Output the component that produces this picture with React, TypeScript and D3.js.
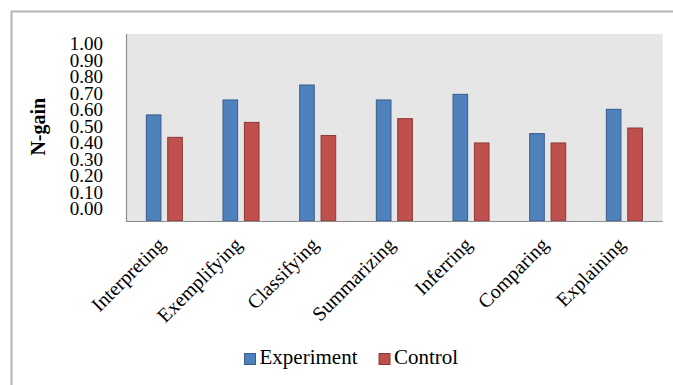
import React from "react";
import * as d3 from "d3";

const categories = ["Interpreting", "Exemplifying", "Classifying", "Summarizing", "Inferring", "Comparing", "Explaining"];
const seriesNames = ["Experiment", "Control"];
const experiment = [0.57, 0.65, 0.73, 0.65, 0.68, 0.47, 0.60];
const control = [0.45, 0.53, 0.46, 0.55, 0.42, 0.42, 0.50];
const yTicks = [0, 0.1, 0.2, 0.3, 0.4, 0.5, 0.6, 0.7, 0.8, 0.9, 1.0];
const colors = ["#4f81bd", "#c0504d"];
const strokes = ["#385d8a", "#8c3836"];

const W = 673;
const H = 385;
const plot = { left: 126, right: 662.7, top: 34, bottom: 221 };
const FONT = "\"Liberation Serif\", \"Times New Roman\", Tinos, \"DejaVu Serif\", serif";
const tStyle: React.CSSProperties = { fontFamily: FONT };

export default function App() {
  const x0 = d3
    .scaleBand<string>()
    .domain(categories)
    .range([plot.left, plot.right])
    .paddingInner(0.517)
    .paddingOuter(0.2585);
  const x1 = d3
    .scaleBand<string>()
    .domain(seriesNames)
    .range([0, x0.bandwidth()])
    .paddingInner(0.27);
  const y = d3.scaleLinear().domain([0, 1]).range([plot.bottom, plot.top]);
  // tick labels in the reference sit in a compressed column
  const yLabel = d3.scaleLinear().domain([0, 1]).range([208.8, 43.3]);
  const fmt = d3.format(".2f");
  const series = [experiment, control];

  return (
    <svg
      width={W}
      height={H}
      style={{ position: "absolute", left: 0, top: 0, background: "#fff" }}
    >
      <path d={`M11.5,${H + 2} V11.5 H${W + 2}`} fill="none" stroke="#b4b4b4" strokeWidth={2} />
      <rect x={plot.left} y={plot.top} width={plot.right - plot.left} height={plot.bottom - plot.top} fill="#e6e6e6" />
      {categories.map((c, i) => (
        <g key={c} transform={`translate(${x0(c)},0)`}>
          {seriesNames.map((s, k) => (
            <rect
              key={s}
              x={(x1(s) as number) + 0.5}
              y={y(series[k][i]) + 0.5}
              width={x1.bandwidth() - 1}
              height={y(0) - y(series[k][i]) - 0.5}
              fill={colors[k]}
              stroke={strokes[k]}
              strokeWidth={1}
            />
          ))}
        </g>
      ))}
      <line x1={plot.left + 0.5} x2={plot.left + 0.5} y1={plot.top} y2={plot.bottom + 1} stroke="#8c8c8c" strokeWidth={1.2} />
      <line x1={plot.left} x2={plot.right} y1={plot.bottom + 0.5} y2={plot.bottom + 0.5} stroke="#8c8c8c" strokeWidth={1.2} />
      {yTicks.map((t) => (
        <text key={t} x={103} y={yLabel(t)} dy="0.35em" textAnchor="end" fontSize={19} fill="#000" style={tStyle}>
          {fmt(t)}
        </text>
      ))}
      <text
        transform={`translate(45,126.7) rotate(-90)`}
        textAnchor="middle"
        fontSize={20}
        fontWeight="bold"
        fill="#000"
        style={tStyle}
      >
        N-gain
      </text>
      {categories.map((c) => {
        const cx = (x0(c) as number) + x0.bandwidth() / 2 + 2;
        return (
          <text key={c} transform={`translate(${cx},246) rotate(-45)`} textAnchor="end" fontSize={20} fill="#000" style={tStyle}>
            {c}
          </text>
        );
      })}
      {seriesNames.map((s, k) => {
        const lx = k === 0 ? 244 : 378.5;
        return (
          <g key={s}>
            <rect x={lx + 0.5} y={353.5} width={11} height={11} fill={colors[k]} stroke={strokes[k]} strokeWidth={1} />
            <text x={lx + 15.5} y={364.3} fontSize={21} fill="#000" style={tStyle}>
              {s}
            </text>
          </g>
        );
      })}
    </svg>
  );
}
